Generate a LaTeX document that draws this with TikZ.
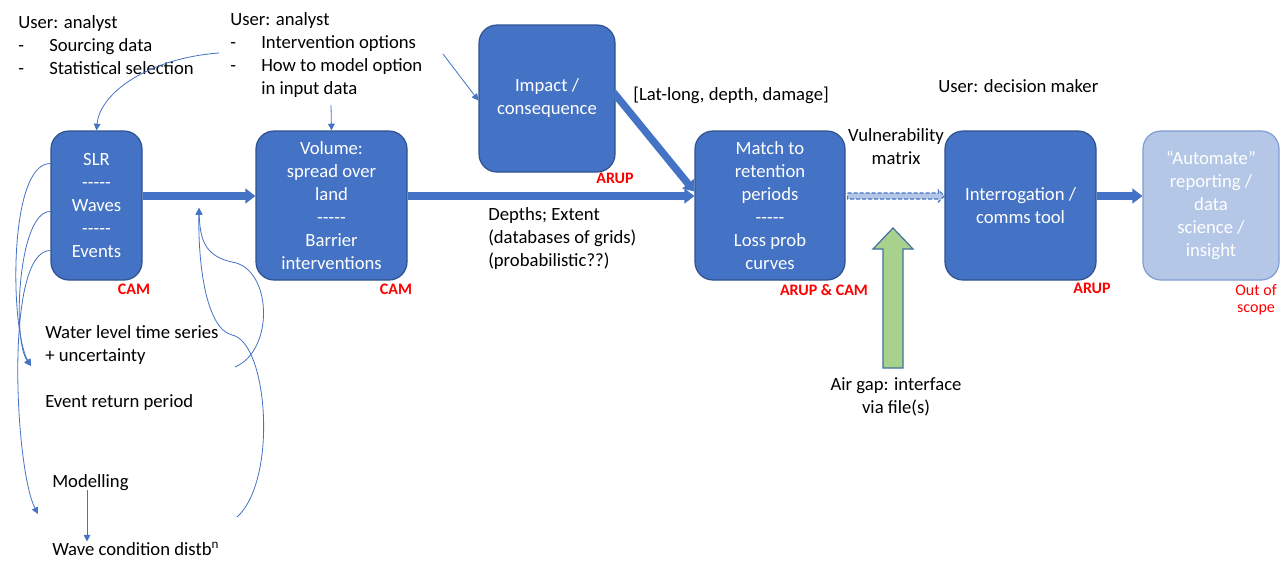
\documentclass[tikz,border=0pt]{standalone}
\usepackage{fontspec}
\setmainfont{Carlito}
\usetikzlibrary{arrows.meta,calc}
\definecolor{blueF}{HTML}{4472C4}
\definecolor{blueD}{HTML}{2F528F}
\definecolor{lightB}{HTML}{B4C7E7}
\definecolor{lightD}{HTML}{7F9CD3}
\definecolor{greenF}{HTML}{A9D18E}
\definecolor{greenD}{HTML}{41719C}
\definecolor{redT}{HTML}{FF0000}
\newcommand\dashitem{\makebox[23.25pt][l]{-}}
\newcommand\fivedash{-{}-{}-{}-{}-}
\begin{document}
\begin{tikzpicture}[x=0.75pt,y=-0.75pt,
  box/.style={rounded corners=13.5pt, fill=blueF, draw=blueD, line width=0.9pt, text=white,
    align=center, inner sep=0pt, font=\fontsize{14}{17.25}\selectfont},
  txt/.style={inner sep=0pt, align=left, font=\fontsize{14}{17.25}\selectfont, text=black},
  lbl/.style={inner sep=0pt, font=\fontsize{12}{14}\selectfont\bfseries, text=redT},
  blk/.style={draw=blueF, line width=5.5pt, -{Triangle[length=7.5pt,width=11pt]}},
  thinarr/.style={draw=blueF, line width=0.6pt, -{Triangle[length=5pt,width=5pt]}}
]
\fill[white] (0,0) rectangle (1287,561);
\useasboundingbox (0,0) rectangle (1287,561);

% boxes
\node[box, minimum width=68.25pt, minimum height=111.75pt] (slr) at (96.5,205.5)
  {SLR\\\fivedash\\Waves\\\fivedash\\Events};
\node[box, minimum width=113.25pt, minimum height=111.75pt] (vol) at (331.5,205.5)
  {Volume:\\spread over\\land\\\fivedash\\Barrier\\interventions};
\node[box, minimum width=102pt, minimum height=110.25pt] (imp) at (547,98.5)
  {Impact /\\consequence};
\node[box, minimum width=112.5pt, minimum height=111.75pt] (match) at (770,205.5)
  {Match to\\retention\\periods\\\fivedash\\Loss prob\\curves};
\node[box, minimum width=113.25pt, minimum height=111.75pt] (intg) at (1020.5,205.5)
  {Interrogation /\\comms tool};
\node[box, fill=lightB, draw=lightD, minimum width=102pt, minimum height=111.75pt] (auto) at (1211,205.5)
  {\textquotedblleft Automate\textquotedblright\\reporting /\\data\\science /\\insight};

% block arrows
\draw[blk] ([yshift=7.1pt]slr.east) -- ([yshift=7.1pt]vol.west);
\draw[blk] ([yshift=7.1pt]vol.east) -- ([yshift=7.1pt]match.west);
\draw[blk] ($(imp.east)+(-2,-6)$) -- ($(match.west)+(0,-14)$);
\draw[blk] ([yshift=7.1pt]intg.east) -- ([yshift=7.1pt]auto.west);

% dashed light arrow
\draw[draw=blueF, fill=lightB, line width=0.8pt, dash pattern=on 3pt off 1.5pt]
  ($(match.east)+(2,-12.5)$) -- ($(intg.west)+(-6,-12.5)$) -- ($(intg.west)+(-6,-15.5)$)
  -- ($(intg.west)+(0,-9.5)$) -- ($(intg.west)+(-6,-3.5)$) -- ($(intg.west)+(-6,-6.5)$)
  -- ($(match.east)+(2,-6.5)$) -- cycle;

% green up arrow
\draw[fill=greenF, draw=greenD, line width=0.9pt] (893,228) -- (913,249) -- (903,249) -- (903,368)
  -- (883,368) -- (883,249) -- (873,249) -- cycle;

% texts (base anchor = baseline of last line)
\node[txt, anchor=base west] (u1) at (18,74)
  {User: analyst\\\dashitem Sourcing data\\\dashitem Statistical selection};
\node[txt, anchor=base west] (u2) at (230,94)
  {User: analyst\\\dashitem Intervention options\\\dashitem How to model option\\\hspace*{23.25pt}in input data};
\node[txt, anchor=base west] (ll) at (633,100) {[Lat-long, depth, damage]};
\node[txt, anchor=base, align=center] (vm) at (896,164) {Vulnerability\\matrix};
\node[txt, anchor=base west] (u3) at (938,92) {User: decision maker};
\node[txt, anchor=base west] (dep) at (488,266)
  {Depths; Extent\\(databases of grids)\\(probabilistic??)};
\node[txt, anchor=base west] (wl) at (45,361) {Water level time series\\+ uncertainty};
\node[txt, anchor=base west] (erp) at (45,407) {Event return period};
\node[txt, anchor=base west] (model) at (52,487) {Modelling};
\node[txt, anchor=base west] (wave) at (52,555) {Wave condition distb\textsuperscript{n}};
\node[txt, anchor=base, align=center] (gap) at (896,413) {Air gap: interface\\via file(s)};

% red labels
\node[lbl, anchor=base] (l1) at (134,294) {CAM};
\node[lbl, anchor=base] (l2) at (396,294) {CAM};
\node[lbl, anchor=base] (l3) at (615,183) {ARUP};
\node[lbl, anchor=base] (l4) at (824,295) {ARUP \& CAM};
\node[lbl, anchor=base] (l5) at (1092,293) {ARUP};
\node[lbl, anchor=base, align=center, font=\fontsize{12}{12.75}\selectfont] (l6) at (1256,312) {Out of\\scope};

% thin connectors
\coordinate (c1s) at (219,53);
\draw[thinarr] (c1s) .. controls (150,58) and (100,92) .. (slr.north);
\coordinate (c2s) at (331,105);
\draw[thinarr] (c2s) -- (vol.north);
\coordinate (c3s) at (443,54);
\draw[thinarr] (c3s) -- ($(imp.west)+(0,2)$);

\coordinate (ewl) at (31,366);
\coordinate (ewc) at (38,514);
\draw[thinarr] ($(slr.west)+(0,-42)$) .. controls (8,163) and (10,330) .. (ewl);
\draw[thinarr] ($(slr.west)+(0,6)$) .. controls (18,211) and (12,340) .. (ewl);
\draw[thinarr] ($(slr.west)+(0,45)$) .. controls (4,250) and (15,470) .. (ewc);

\coordinate (fb) at (199,208);
\coordinate (r1) at (235,367);
\coordinate (r2) at (237,517);
\draw[thinarr] (r1) .. controls (275,350) and (272,268) .. (232,262) .. controls (205,256) and (200,240) .. (fb);
\draw[thinarr] (r2) .. controls (278,480) and (268,342) .. (232,335) .. controls (205,328) and (198,260) .. (fb);

\coordinate (ax) at (87,0);
\draw[thinarr] (model.south -| ax) -- (wave.north -| ax);
\end{tikzpicture}
\end{document}
